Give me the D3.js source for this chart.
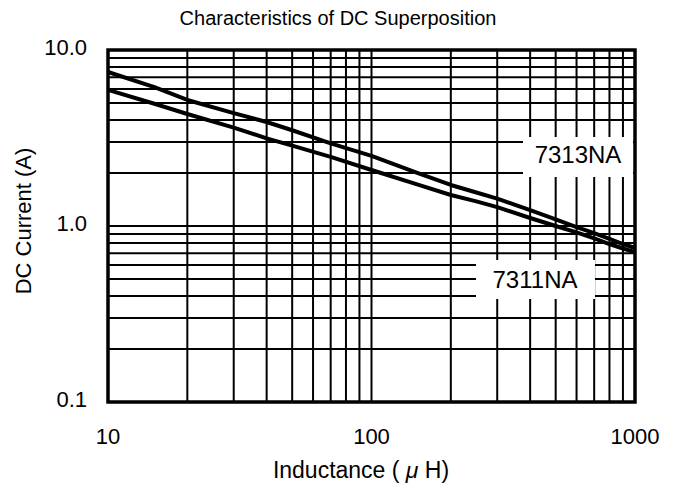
<!DOCTYPE html>
<html>
<head>
<meta charset="utf-8">
<script src="https://cdn.jsdelivr.net/npm/d3@7/dist/d3.min.js"></script>
<style>
  html, body { margin: 0; padding: 0; background: #fff; }
  svg { display: block; font-family: Arial, "Liberation Sans", sans-serif; }
</style>
</head>
<body>
<svg id="chart" width="678" height="497"></svg>
<script>
// DC superposition curves (inductance in uH, current in A).
const inductance = [10, 15, 20, 30, 40, 50, 70, 100, 150, 200, 250, 300, 400, 500, 600, 700, 800, 900, 1000];
const current7313 = [7.5, 6.15, 5.2, 4.38, 3.9, 3.5, 2.95, 2.5, 2.0, 1.71, 1.55, 1.43, 1.23, 1.09, 0.985, 0.91, 0.845, 0.79, 0.75];
const current7311 = [5.93, 4.95, 4.33, 3.62, 3.15, 2.86, 2.47, 2.08, 1.72, 1.5, 1.38, 1.28, 1.11, 1.0, 0.92, 0.85, 0.79, 0.745, 0.71];
const xTickValues = [10, 100, 1000];
const yTickValues = [0.1, 1, 10];
const yTickText = ["0.1", "1.0", "10.0"];

const svg = d3.select("#chart");
const plot = { left: 108, right: 635, top: 50, bottom: 402 };

const x = d3.scaleLog().domain([10, 1000]).range([plot.left, plot.right]);
const y = d3.scaleLog().domain([0.1, 10]).range([plot.bottom, plot.top]);

// Title
svg.append("text")
  .attr("x", 338).attr("y", 25)
  .attr("text-anchor", "middle")
  .attr("font-size", 20)
  .text("Characteristics of DC Superposition");

// Grid
const grid = svg.append("g").attr("stroke", "#000").attr("stroke-width", 2);
grid.selectAll("line.v")
  .data(x.ticks())
  .join("line")
  .attr("class", "v")
  .attr("x1", (d) => x(d)).attr("x2", (d) => x(d))
  .attr("y1", plot.top).attr("y2", plot.bottom);
grid.selectAll("line.h")
  .data(y.ticks())
  .join("line")
  .attr("class", "h")
  .attr("y1", (d) => y(d)).attr("y2", (d) => y(d))
  .attr("x1", plot.left).attr("x2", plot.right);

// Curves
const line = d3.line()
  .x((d) => x(d[0]))
  .y((d) => y(d[1]));
const series = [
  d3.zip(inductance, current7313),
  d3.zip(inductance, current7311),
];
svg.append("g")
  .selectAll("path")
  .data(series)
  .join("path")
  .attr("d", line)
  .attr("fill", "none")
  .attr("stroke", "#000")
  .attr("stroke-width", 4)
  .attr("stroke-linejoin", "round");

// Frame
svg.append("rect")
  .attr("x", plot.left).attr("y", plot.top)
  .attr("width", plot.right - plot.left).attr("height", plot.bottom - plot.top)
  .attr("fill", "none")
  .attr("stroke", "#000")
  .attr("stroke-width", 3.5);

// Series labels on white boxes
const labels = [
  { text: "7313NA", x0: 523, x1: 633, y0: 137, y1: 177, tx: 578, ty: 163 },
  { text: "7311NA", x0: 476, x1: 595, y0: 260, y1: 299, tx: 535, ty: 288 },
];
const lab = svg.append("g").selectAll("g").data(labels).join("g");
lab.append("rect")
  .attr("x", (d) => d.x0).attr("y", (d) => d.y0)
  .attr("width", (d) => d.x1 - d.x0).attr("height", (d) => d.y1 - d.y0)
  .attr("fill", "#fff");
lab.append("text")
  .attr("x", (d) => d.tx).attr("y", (d) => d.ty)
  .attr("text-anchor", "middle")
  .attr("font-size", 24)
  .text((d) => d.text);

// Tick labels
svg.append("g")
  .selectAll("text")
  .data(xTickValues)
  .join("text")
  .attr("x", (d) => x(d)).attr("y", 444)
  .attr("text-anchor", "middle")
  .attr("font-size", 22)
  .text((d) => d);

svg.append("g")
  .selectAll("text")
  .data(yTickValues)
  .join("text")
  .attr("x", 87).attr("y", (d) => y(d) + 5)
  .attr("text-anchor", "end")
  .attr("font-size", 22)
  .text((d, i) => yTickText[i]);

// Axis titles
const xTitle = svg.append("text")
  .attr("x", 361).attr("y", 478)
  .attr("text-anchor", "middle")
  .attr("font-size", 23);
xTitle.append("tspan").text("Inductance ( ");
xTitle.append("tspan").attr("font-style", "italic").text("μ");
xTitle.append("tspan").text(" H)");

svg.append("text")
  .attr("transform", "translate(31,221) rotate(-90)")
  .attr("text-anchor", "middle")
  .attr("font-size", 22)
  .text("DC Current (A)");
</script>
</body>
</html>
